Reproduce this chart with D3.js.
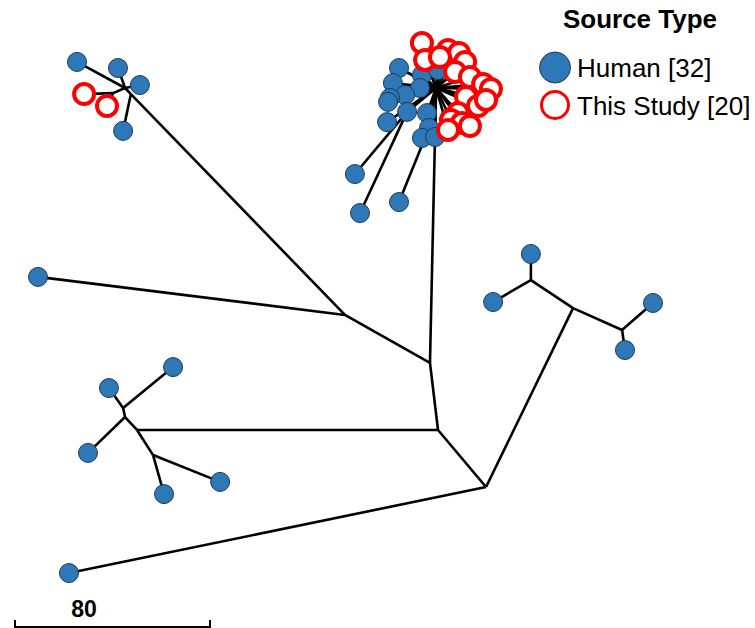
<!DOCTYPE html>
<html>
<head>
<meta charset="utf-8">
<script src="https://cdn.jsdelivr.net/npm/d3@7"></script>
<style>
  body { margin: 0; background: #fff; }
  svg { display: block; }
</style>
</head>
<body>
<div id="tree"></div>
<script>
// node positions in tree distance units, [id, x, y, parent]
const internalNodes = [
  ["A", 199.4, 199.8, null],
  ["B", 179.7, 176.4, "A"],
  ["C", 176.4, 148.9, "B"],
  ["E", 141.5, 129.2, "C"],
  ["T", 178.9, 36.1, "C"],
  ["H2", 53.7, 38.6, "E"],
  ["H1", 51.3, 36.1, "H2"],
  ["H3", 46.4, 38.2, "H1"],
  ["D4", 56.2, 176.4, "B"],
  ["D2", 51.3, 171.1, "D4"],
  ["D1", 50.5, 167.4, "D2"],
  ["D3", 62.8, 186.7, "D4"],
  ["R2", 235.1, 126.4, "A"],
  ["R1", 217.8, 114.9, "R2"],
  ["R3", 255.2, 135.4, "R2"]
];

const humanNodes = [
  ["h1", 28.3, 235.1, "A"],
  ["h2", 15.6, 113.6, "E"],
  ["h3", 44.7, 159.2, "D1"],
  ["h4", 71.0, 150.6, "D1"],
  ["h5", 36.1, 185.8, "D2"],
  ["h6", 90.3, 197.7, "D3"],
  ["h7", 67.3, 202.7, "D3"],
  ["h8", 217.8, 104.2, "R1"],
  ["h9", 202.3, 123.9, "R1"],
  ["h10", 267.9, 124.3, "R3"],
  ["h11", 256.4, 143.6, "R3"],
  ["h12", 31.6, 25.4, "H1"],
  ["h13", 48.4, 27.9, "H1"],
  ["h14", 57.4, 34.9, "H1"],
  ["h15", 50.5, 53.7, "H2"],
  ["h16", 163.7, 27.9, "T"],
  ["h17", 161.2, 34.1, "T"],
  ["h18", 173.1, 30.8, "T"],
  ["h19", 179.7, 28.7, "T"],
  ["h20", 172.3, 36.1, "T"],
  ["h21", 166.2, 39.0, "T"],
  ["h22", 160.0, 40.2, "T"],
  ["h23", 159.2, 41.8, "T"],
  ["h24", 167.0, 45.9, "T"],
  ["h25", 158.8, 50.1, "T"],
  ["h26", 175.2, 46.4, "T"],
  ["h27", 176.0, 52.5, "T"],
  ["h28", 173.1, 56.6, "T"],
  ["h29", 178.5, 56.2, "T"],
  ["h30", 145.6, 71.4, "h24"],
  ["h31", 147.7, 87.4, "h24"],
  ["h32", 163.7, 82.9, "h27"]
];

const studyNodes = [
  ["s1", 34.5, 38.6, "H3"],
  ["s2", 43.9, 43.5, "H3"],
  ["s3", 173.1, 17.6, "T"],
  ["s4", 174.4, 24.6, "T"],
  ["s5", 183.8, 20.5, "T"],
  ["s6", 188.3, 21.7, "T"],
  ["s7", 190.8, 25.4, "T"],
  ["s8", 186.7, 29.5, "T"],
  ["s9", 192.8, 31.6, "T"],
  ["s10", 198.2, 34.5, "T"],
  ["s11", 201.4, 36.5, "T"],
  ["s12", 191.2, 39.8, "T"],
  ["s13", 196.1, 43.5, "T"],
  ["s14", 199.4, 41.0, "T"],
  ["s15", 187.9, 46.4, "T"],
  ["s16", 185.0, 49.2, "T"],
  ["s17", 189.5, 50.5, "T"],
  ["s18", 192.8, 51.7, "T"],
  ["s19", 183.8, 53.3, "T"],
  ["s20", 180.5, 23.4, "T"]
];

const legendTitle = "Source Type";
const legendLabels = ["Human [32]", "This Study [20]"];
const scaleBarLength = 80;

const width = 755, height = 628;

const svg = d3
  .select("#tree")
  .append("svg")
  .attr("width", width)
  .attr("height", height);

// tree units -> pixels (80 units = 195 px)
const dist = d3.scaleLinear().domain([0, 80]).range([0, 195]);

const allNodes = internalNodes.concat(humanNodes, studyNodes);
const byId = new Map(allNodes.map(function (d) { return [d[0], d]; }));

const links = allNodes
  .filter(function (d) { return d[3] !== null; })
  .map(function (d) { return [byId.get(d[3]), d]; });

svg
  .append("g")
  .selectAll("line")
  .data(links)
  .enter()
  .append("line")
  .attr("x1", function (d) { return dist(d[0][1]); })
  .attr("y1", function (d) { return dist(d[0][2]); })
  .attr("x2", function (d) { return dist(d[1][1]); })
  .attr("y2", function (d) { return dist(d[1][2]); })
  .attr("stroke", "#000")
  .attr("stroke-width", 2.6);

svg
  .append("g")
  .selectAll("circle")
  .data(humanNodes)
  .enter()
  .append("circle")
  .attr("cx", function (d) { return dist(d[1]); })
  .attr("cy", function (d) { return dist(d[2]); })
  .attr("r", 9.5)
  .attr("fill", "#2e78b7")
  .attr("stroke", "#1c3a57")
  .attr("stroke-width", 1);

svg
  .append("g")
  .selectAll("circle")
  .data(studyNodes)
  .enter()
  .append("circle")
  .attr("cx", function (d) { return dist(d[1]); })
  .attr("cy", function (d) { return dist(d[2]); })
  .attr("r", 10)
  .attr("fill", "#fff")
  .attr("stroke", "#f00")
  .attr("stroke-width", 4);

// legend
const legend = svg.append("g");
legend
  .append("text")
  .attr("x", 640)
  .attr("y", 28)
  .attr("text-anchor", "middle")
  .attr("font-family", "Liberation Sans, Arial, sans-serif")
  .attr("font-weight", "bold")
  .attr("font-size", 26)
  .text(legendTitle);

legend
  .append("circle")
  .attr("cx", 555)
  .attr("cy", 67.5)
  .attr("r", 15.5)
  .attr("fill", "#2e78b7")
  .attr("stroke", "#1c3a57")
  .attr("stroke-width", 1);

legend
  .append("circle")
  .attr("cx", 555)
  .attr("cy", 105)
  .attr("r", 13.5)
  .attr("fill", "#fff")
  .attr("stroke", "#f00")
  .attr("stroke-width", 3);

legend
  .selectAll("text.lab")
  .data(legendLabels)
  .enter()
  .append("text")
  .attr("class", "lab")
  .attr("x", 577)
  .attr("y", function (d, i) { return 77 + i * 38; })
  .attr("font-family", "Liberation Sans, Arial, sans-serif")
  .attr("font-size", 26)
  .text(function (d) { return d; });

// scale bar
const bar = svg.append("g").attr("transform", "translate(15,627)");
bar
  .append("path")
  .attr("d", "M0,-7V0H" + dist(scaleBarLength) + "V-7")
  .attr("fill", "none")
  .attr("stroke", "#000")
  .attr("stroke-width", 2);
bar
  .append("text")
  .attr("x", 69)
  .attr("y", -10)
  .attr("text-anchor", "middle")
  .attr("font-family", "Liberation Sans, Arial, sans-serif")
  .attr("font-weight", "bold")
  .attr("font-size", 23)
  .text(scaleBarLength);
</script>
</body>
</html>
